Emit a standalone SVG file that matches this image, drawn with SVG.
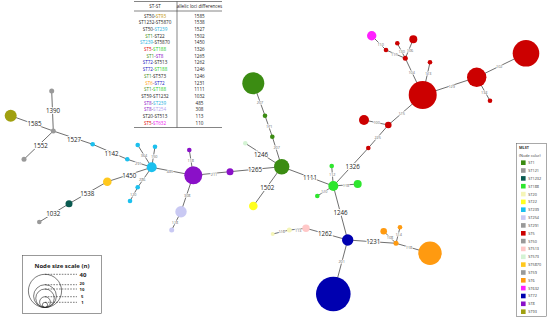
<svg xmlns="http://www.w3.org/2000/svg" width="550" height="321" viewBox="0 0 550 321">
<style>
text{font-family:"Open Sans","Liberation Sans",sans-serif;}
.e line{stroke:#4a4a4a;stroke-width:0.8;}
.big{font-size:6.2px;fill:#222;text-anchor:middle;dominant-baseline:central;stroke:#fff;stroke-width:2;paint-order:stroke;}
.sm{font-size:3.8px;fill:#666;text-anchor:middle;dominant-baseline:central;stroke:#fff;stroke-width:1.2;paint-order:stroke;}
.tb{font-size:4.6px;fill:#222;text-anchor:middle;}
.rule{stroke:#333;stroke-width:0.6;}
.lg{font-size:3.8px;fill:#333;}
.sc{fill:none;stroke:#222;stroke-width:0.6;}
.dash{stroke:#222;stroke-width:0.6;stroke-dasharray:1.6 1.2;}
.scl{font-size:6px;font-weight:bold;fill:#222;}
.scn{font-size:4.2px;font-weight:bold;fill:#222;}
.c1{fill:#3b8c12}.c188{fill:#2ee62e}.c239{fill:#1cc0ee}.c8{fill:#8a10c8}.c254{fill:#c9c9f3}
.c573{fill:#d4f3d4}.c22{fill:#ffff1e}.c5{fill:#cc0000}.c632{fill:#ff20ff}.c72{fill:#0000b0}
.c6{fill:#ff9a10}.c513{fill:#ffc8c8}.c20{fill:#f5f5b8}.c5870{fill:#ffc81e}.c1232{fill:#0a5a50}
.c93{fill:#a0a010}.cg{fill:#999999}
.t1{fill:#3b8c12}.t188{fill:#22cc22}.t239{fill:#1ab0e0}.t8{fill:#8a10c8}.t254{fill:#b0a0f0}
.t5{fill:#dd0000}.t632{fill:#ee10ee}.t72{fill:#1010c0}.t6{fill:#ff9a10}.t93{fill:#c09000}
</style>

<g id="table">
<line class="rule" x1="134" y1="1.5" x2="222" y2="1.5"/>
<line class="rule" x1="134" y1="11" x2="222" y2="11"/>
<line class="rule" x1="134" y1="127.5" x2="222" y2="127.5" stroke-width="0.9"/>
<line class="rule" x1="177" y1="1.5" x2="177" y2="127.5"/>
<text class="tb" x="155" y="8">ST-ST</text>
<text class="tb" x="199.5" y="8">allelic loci differences</text>
<text class="tb" x="155" y="17.5">ST50-<tspan class="t93">ST93</tspan></text>
<text class="tb" x="155" y="24.2">ST1232-ST5870</text>
<text class="tb" x="155" y="30.9">ST50-<tspan class="t239">ST239</tspan></text>
<text class="tb" x="155" y="37.6"><tspan class="t1">ST1</tspan>-ST22</text>
<text class="tb" x="155" y="44.3"><tspan class="t239">ST239</tspan>-ST5870</text>
<text class="tb" x="155" y="51"><tspan class="t5">ST5</tspan>-<tspan class="t188">ST188</tspan></text>
<text class="tb" x="155" y="57.7"><tspan class="t1">ST1</tspan>-<tspan class="t8">ST8</tspan></text>
<text class="tb" x="155" y="64.4"><tspan class="t72">ST72</tspan>-ST513</text>
<text class="tb" x="155" y="71.1"><tspan class="t72">ST72</tspan>-<tspan class="t188">ST188</tspan></text>
<text class="tb" x="155" y="77.8"><tspan class="t1">ST1</tspan>-ST573</text>
<text class="tb" x="155" y="84.5"><tspan class="t6">ST6</tspan>-<tspan class="t72">ST72</tspan></text>
<text class="tb" x="155" y="91.2"><tspan class="t1">ST1</tspan>-<tspan class="t188">ST188</tspan></text>
<text class="tb" x="155" y="97.9">ST59-ST1232</text>
<text class="tb" x="155" y="104.6"><tspan class="t8">ST8</tspan>-<tspan class="t239">ST239</tspan></text>
<text class="tb" x="155" y="111.3"><tspan class="t8">ST8</tspan>-<tspan class="t254">ST254</tspan></text>
<text class="tb" x="155" y="118">ST20-ST513</text>
<text class="tb" x="155" y="124.7"><tspan class="t5">ST5</tspan>-<tspan class="t632">ST632</tspan></text>
<text class="tb" x="199.5" y="17.5">1585</text>
<text class="tb" x="199.5" y="24.2">1538</text>
<text class="tb" x="199.5" y="30.9">1527</text>
<text class="tb" x="199.5" y="37.6">1502</text>
<text class="tb" x="199.5" y="44.3">1450</text>
<text class="tb" x="199.5" y="51">1326</text>
<text class="tb" x="199.5" y="57.7">1265</text>
<text class="tb" x="199.5" y="64.4">1262</text>
<text class="tb" x="199.5" y="71.1">1246</text>
<text class="tb" x="199.5" y="77.8">1246</text>
<text class="tb" x="199.5" y="84.5">1231</text>
<text class="tb" x="199.5" y="91.2">1111</text>
<text class="tb" x="199.5" y="97.9">1032</text>
<text class="tb" x="199.5" y="104.6">485</text>
<text class="tb" x="199.5" y="111.3">308</text>
<text class="tb" x="199.5" y="118">113</text>
<text class="tb" x="199.5" y="124.7">110</text>
</g>

<g id="connectors" class="e">
<line x1="51.7" y1="91" x2="53.3" y2="131"/>
<line x1="10.7" y1="115.7" x2="53.3" y2="131"/>
<line x1="53.3" y1="131" x2="24" y2="159.3"/>
<line x1="53.3" y1="131" x2="92.7" y2="144.3"/>
<line x1="92.7" y1="144.3" x2="127.3" y2="159.3"/>
<line x1="127.3" y1="159.3" x2="151.7" y2="167.3"/>
<line x1="151.7" y1="167.3" x2="137.7" y2="145"/>
<line x1="151.7" y1="167.3" x2="155" y2="146.7"/>
<line x1="151.7" y1="167.3" x2="137.7" y2="187.3"/>
<line x1="137.7" y1="187.3" x2="130" y2="201"/>
<line x1="151.7" y1="167.3" x2="107.3" y2="181.7"/>
<line x1="107.3" y1="181.7" x2="69" y2="203.7"/>
<line x1="69" y1="203.7" x2="39.3" y2="222"/>
<line x1="151.7" y1="167.3" x2="193.3" y2="175.3"/>
<line x1="193.3" y1="175.3" x2="189.3" y2="150"/>
<line x1="193.3" y1="175.3" x2="181" y2="211.7"/>
<line x1="181" y1="211.7" x2="171.7" y2="230"/>
<line x1="193.3" y1="175.3" x2="230" y2="171.7"/>
<line x1="230" y1="171.7" x2="281.7" y2="166.7"/>
<line x1="281.7" y1="166.7" x2="245.3" y2="143.3"/>
<line x1="281.7" y1="166.7" x2="253.3" y2="206"/>
<line x1="281.7" y1="166.7" x2="272.3" y2="136.7"/>
<line x1="272.3" y1="136.7" x2="265" y2="115.7"/>
<line x1="265" y1="115.7" x2="253.3" y2="83.3"/>
<line x1="281.7" y1="166.7" x2="333.3" y2="186"/>
<line x1="333.3" y1="186" x2="331.7" y2="166"/>
<line x1="333.3" y1="186" x2="357.7" y2="184"/>
<line x1="333.3" y1="186" x2="317.3" y2="196"/>
<line x1="333.3" y1="186" x2="368.3" y2="148"/>
<line x1="368.3" y1="148" x2="388.3" y2="125"/>
<line x1="388.3" y1="125" x2="364" y2="120"/>
<line x1="388.3" y1="125" x2="422.7" y2="95"/>
<line x1="422.7" y1="95" x2="405.3" y2="58.3"/>
<line x1="405.3" y1="58.3" x2="386" y2="50"/>
<line x1="386" y1="50" x2="371.7" y2="35.7"/>
<line x1="405.3" y1="58.3" x2="397.3" y2="43.3"/>
<line x1="405.3" y1="58.3" x2="413.3" y2="39.3"/>
<line x1="422.7" y1="95" x2="430" y2="62.3"/>
<line x1="422.7" y1="95" x2="476.7" y2="77.3"/>
<line x1="476.7" y1="77.3" x2="526" y2="53.3"/>
<line x1="476.7" y1="77.3" x2="490" y2="100.7"/>
<line x1="333.3" y1="186" x2="347.7" y2="240"/>
<line x1="347.7" y1="240" x2="306" y2="228.3"/>
<line x1="306" y1="228.3" x2="289.3" y2="230"/>
<line x1="289.3" y1="230" x2="272.7" y2="234"/>
<line x1="347.7" y1="240" x2="396" y2="243.3"/>
<line x1="396" y1="243.3" x2="383.7" y2="231.3"/>
<line x1="396" y1="243.3" x2="400" y2="227.3"/>
<line x1="396" y1="243.3" x2="430" y2="253.3"/>
<line x1="347.7" y1="240" x2="333.3" y2="294"/>
<text class="big" x="53" y="110.7">1390</text>
<text class="big" x="34.5" y="123.5">1585</text>
<text class="big" x="40.7" y="145.7">1552</text>
<text class="big" x="74" y="139">1527</text>
<text class="big" x="111.5" y="153">1142</text>
<text class="big" x="129.3" y="175.5">1450</text>
<text class="big" x="87.3" y="193.8">1538</text>
<text class="big" x="53.3" y="213">1032</text>
<text class="big" x="255" y="169.5">1265</text>
<text class="big" x="261" y="154">1246</text>
<text class="big" x="267.3" y="187.3">1502</text>
<text class="big" x="310" y="177.3">1111</text>
<text class="big" x="352.7" y="166.7">1326</text>
<text class="big" x="340.5" y="212.5">1246</text>
<text class="big" x="325" y="233.5">1262</text>
<text class="big" x="373.3" y="241.7">1231</text>
<text class="sm" x="138.3" y="163.3">291</text>
<text class="sm" x="144" y="155">364</text>
<text class="sm" x="154.3" y="156">150</text>
<text class="sm" x="142.3" y="179">286</text>
<text class="sm" x="133.3" y="194">120</text>
<text class="sm" x="170" y="171">485</text>
<text class="sm" x="190.7" y="160">118</text>
<text class="sm" x="187.3" y="195">308</text>
<text class="sm" x="175" y="222.3">118</text>
<text class="sm" x="214" y="174">211</text>
<text class="sm" x="260" y="102.3">207</text>
<text class="sm" x="269.3" y="126">171</text>
<text class="sm" x="276.7" y="147.3">207</text>
<text class="sm" x="332.3" y="174">112</text>
<text class="sm" x="346" y="185.5">118</text>
<text class="sm" x="324.3" y="191.5">110</text>
<text class="sm" x="377.7" y="137.7">225</text>
<text class="sm" x="376.7" y="122.7">100</text>
<text class="sm" x="401.7" y="113.3">115</text>
<text class="sm" x="411.7" y="72.3">104</text>
<text class="sm" x="394.3" y="54.3">117</text>
<text class="sm" x="380.7" y="44">110</text>
<text class="sm" x="401.7" y="51.7">130</text>
<text class="sm" x="410" y="50">106</text>
<text class="sm" x="428.3" y="73.3">113</text>
<text class="sm" x="451.7" y="86">129</text>
<text class="sm" x="499.3" y="66.7">102</text>
<text class="sm" x="484.3" y="92.7">134</text>
<text class="sm" x="298.3" y="230">113</text>
<text class="sm" x="281.7" y="231.7">118</text>
<text class="sm" x="390" y="237.7">108</text>
<text class="sm" x="398.7" y="234.3">114</text>
<text class="sm" x="409" y="247.7">118</text>
<text class="sm" x="341.7" y="261.7">201</text>
</g>

<g id="nodes">
<g id="n-st50a"><circle class="cg" cx="51.7" cy="91" r="2.5"/></g>
<g id="n-st93"><circle class="c93" cx="10.7" cy="115.7" r="6"/></g>
<g id="n-st50"><circle class="cg" cx="53.3" cy="131" r="2.5"/></g>
<g id="n-st121"><circle class="cg" cx="24" cy="159.3" r="2.5"/></g>
<g id="n-st239a"><circle class="c239" cx="92.7" cy="144.3" r="2.3"/></g>
<g id="n-st239b"><circle class="c239" cx="127.3" cy="159.3" r="2.3"/></g>
<g id="n-st239"><circle class="c239" cx="151.7" cy="167.3" r="5"/></g>
<g id="n-st239c"><circle class="c239" cx="137.7" cy="145" r="2.3"/></g>
<g id="n-st239d"><circle class="c239" cx="155" cy="146.7" r="2.3"/></g>
<g id="n-st239e"><circle class="c239" cx="137.7" cy="187.3" r="2.3"/></g>
<g id="n-st239f"><circle class="c239" cx="130" cy="201" r="2.3"/></g>
<g id="n-st5870"><circle class="c5870" cx="107.3" cy="181.7" r="4.3"/></g>
<g id="n-st1232"><circle class="c1232" cx="69" cy="203.7" r="3.5"/></g>
<g id="n-st59"><circle class="cg" cx="39.3" cy="222" r="2.3"/></g>
<g id="n-st8"><circle class="c8" cx="193.3" cy="175.3" r="9"/></g>
<g id="n-st8a"><circle class="c8" cx="189.3" cy="150" r="2.3"/></g>
<g id="n-st254"><circle class="c254" cx="181" cy="211.7" r="5.7"/></g>
<g id="n-st254a"><circle class="c254" cx="171.7" cy="230" r="2.5"/></g>
<g id="n-st8b"><circle class="c8" cx="230" cy="171.7" r="3.5"/></g>
<g id="n-st1"><circle class="c1" cx="281.7" cy="166.7" r="7.7"/></g>
<g id="n-st573"><circle class="c573" cx="245.3" cy="143.3" r="2.3"/></g>
<g id="n-st22"><circle class="c22" cx="253.3" cy="206" r="4.3"/></g>
<g id="n-st1a"><circle class="c1" cx="272.3" cy="136.7" r="2.3"/></g>
<g id="n-st1b"><circle class="c1" cx="265" cy="115.7" r="2.3"/></g>
<g id="n-st1c"><circle class="c1" cx="253.3" cy="83.3" r="11"/></g>
<g id="n-st188"><circle class="c188" cx="333.3" cy="186" r="5"/></g>
<g id="n-st188a"><circle class="c188" cx="331.7" cy="166" r="2.3"/></g>
<g id="n-st188b"><circle class="c188" cx="357.7" cy="184" r="4"/></g>
<g id="n-st188c"><circle class="c188" cx="317.3" cy="196" r="2.3"/></g>
<g id="n-st5a"><circle class="c5" cx="368.3" cy="148" r="2.3"/></g>
<g id="n-st5b"><circle class="c5" cx="388.3" cy="125" r="3.3"/></g>
<g id="n-st5c"><circle class="c5" cx="364" cy="120" r="5"/></g>
<g id="n-st5"><circle class="c5" cx="422.7" cy="95" r="14"/></g>
<g id="n-st5d"><circle class="c5" cx="405.3" cy="58.3" r="2.5"/></g>
<g id="n-st5e"><circle class="c5" cx="386" cy="50" r="2.3"/></g>
<g id="n-st632"><circle class="c632" cx="371.7" cy="35.7" r="4.7"/></g>
<g id="n-st5f"><circle class="c5" cx="397.3" cy="43.3" r="2.3"/></g>
<g id="n-st5g"><circle class="c5" cx="413.3" cy="39.3" r="4"/></g>
<g id="n-st5h"><circle class="c5" cx="430" cy="62.3" r="2.3"/></g>
<g id="n-st5i"><circle class="c5" cx="476.7" cy="77.3" r="9.7"/></g>
<g id="n-st5j"><circle class="c5" cx="526" cy="53.3" r="13.3"/></g>
<g id="n-st5k"><circle class="c5" cx="490" cy="100.7" r="2.3"/></g>
<g id="n-st72"><circle class="c72" cx="347.7" cy="240" r="5.7"/></g>
<g id="n-st513"><circle class="c513" cx="306" cy="228.3" r="3.7"/></g>
<g id="n-st20a"><circle class="c20" cx="289.3" cy="230" r="2.5"/></g>
<g id="n-st20b"><circle class="c20" cx="272.7" cy="234" r="2"/></g>
<g id="n-st6a"><circle class="c6" cx="396" cy="243.3" r="2.5"/></g>
<g id="n-st6b"><circle class="c6" cx="383.7" cy="231.3" r="3.3"/></g>
<g id="n-st6c"><circle class="c6" cx="400" cy="227.3" r="2.3"/></g>
<g id="n-st6"><circle class="c6" cx="430" cy="253.3" r="11.7"/></g>
<g id="n-st72a"><circle class="c72" cx="333.3" cy="294" r="17.3"/></g>
</g>

<g id="legend">
<rect x="516.5" y="143.5" width="30" height="173" fill="#fff" stroke="#555" stroke-width="0.5"/>
<text class="lg" x="519" y="149" font-weight="bold">MLST</text>
<text class="lg" x="519" y="156.5">(Node color)</text>
<rect class="c1" x="521" y="160.4" width="4.6" height="4.6"/><text class="lg" x="528.3" y="164.1">ST1</text>
<rect class="cg" x="521" y="168.2" width="4.6" height="4.6"/><text class="lg" x="528.3" y="171.9">ST121</text>
<rect class="c1232" x="521" y="176.1" width="4.6" height="4.6"/><text class="lg" x="528.3" y="179.8">ST1232</text>
<rect class="c188" x="521" y="183.9" width="4.6" height="4.6"/><text class="lg" x="528.3" y="187.6">ST188</text>
<rect class="c20" x="521" y="191.8" width="4.6" height="4.6"/><text class="lg" x="528.3" y="195.5">ST20</text>
<rect class="c22" x="521" y="199.6" width="4.6" height="4.6"/><text class="lg" x="528.3" y="203.3">ST22</text>
<rect class="c239" x="521" y="207.4" width="4.6" height="4.6"/><text class="lg" x="528.3" y="211.1">ST239</text>
<rect class="c254" x="521" y="215.3" width="4.6" height="4.6"/><text class="lg" x="528.3" y="219">ST254</text>
<rect class="cg" x="521" y="223.1" width="4.6" height="4.6"/><text class="lg" x="528.3" y="226.8">ST291</text>
<rect class="c5" x="521" y="231" width="4.6" height="4.6"/><text class="lg" x="528.3" y="234.7">ST5</text>
<rect class="cg" x="521" y="238.8" width="4.6" height="4.6"/><text class="lg" x="528.3" y="242.5">ST50</text>
<rect class="c513" x="521" y="246.6" width="4.6" height="4.6"/><text class="lg" x="528.3" y="250.3">ST513</text>
<rect class="c573" x="521" y="254.5" width="4.6" height="4.6"/><text class="lg" x="528.3" y="258.2">ST573</text>
<rect class="c5870" x="521" y="262.3" width="4.6" height="4.6"/><text class="lg" x="528.3" y="266">ST5870</text>
<rect class="cg" x="521" y="270.2" width="4.6" height="4.6"/><text class="lg" x="528.3" y="273.9">ST59</text>
<rect class="c6" x="521" y="278" width="4.6" height="4.6"/><text class="lg" x="528.3" y="281.7">ST6</text>
<rect class="c632" x="521" y="285.8" width="4.6" height="4.6"/><text class="lg" x="528.3" y="289.5">ST632</text>
<rect class="c72" x="521" y="293.7" width="4.6" height="4.6"/><text class="lg" x="528.3" y="297.4">ST72</text>
<rect class="c8" x="521" y="301.5" width="4.6" height="4.6"/><text class="lg" x="528.3" y="305.2">ST8</text>
<rect class="c93" x="521" y="309.4" width="4.6" height="4.6"/><text class="lg" x="528.3" y="313.1">ST93</text>
</g>

<g id="size-scale">
<rect x="22.5" y="255.5" width="79" height="58" fill="#fff" stroke="#555" stroke-width="0.6"/>
<text class="scl" x="62" y="267.5" text-anchor="middle">Node size scale (n)</text>
<circle class="sc" cx="45" cy="290.9" r="16.6"/>
<circle class="sc" cx="45" cy="296.1" r="11.4"/>
<circle class="sc" cx="45" cy="298.25" r="9.25"/>
<circle class="sc" cx="45" cy="302.1" r="5.4"/>
<circle class="sc" cx="45" cy="304.9" r="2.6"/>
<line class="dash" x1="45" y1="274.3" x2="77" y2="274.3"/>
<line class="dash" x1="45" y1="284.7" x2="77" y2="284.7"/>
<line class="dash" x1="45" y1="289" x2="77" y2="289"/>
<line class="dash" x1="45" y1="296.7" x2="77" y2="296.7"/>
<line class="dash" x1="45" y1="302.3" x2="77" y2="302.3"/>
<text class="scl" x="79.5" y="276.5">40</text>
<text class="scn" x="79.5" y="285">20</text>
<text class="scn" x="79.5" y="291.2">10</text>
<text class="scn" x="81" y="298.4">5</text>
<text class="scn" x="81.3" y="304.3">1</text>
</g>
</svg>
